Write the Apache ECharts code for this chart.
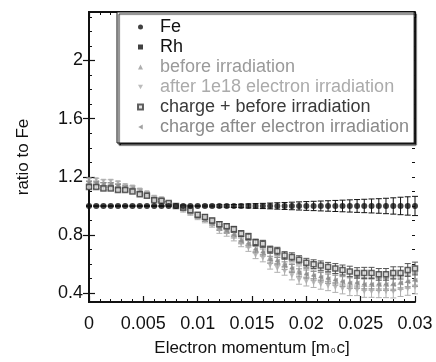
<!DOCTYPE html>
<html><head><meta charset="utf-8">
<script src="https://cdn.jsdelivr.net/npm/echarts@6/dist/echarts.min.js"></script>
<style>html,body{margin:0;padding:0;background:#fff}#c{width:436px;height:362px}</style>
</head><body><div id="c"></div>
<script>
const momentum = [0, 0.00067, 0.00133, 0.002, 0.00267, 0.00333, 0.004, 0.00467, 0.00533, 0.006,
  0.00667, 0.00733, 0.008, 0.00867, 0.00933, 0.01, 0.01067, 0.01133, 0.012, 0.01267,
  0.01333, 0.014, 0.01467, 0.01533, 0.016, 0.01667, 0.01733, 0.018, 0.01867, 0.01933,
  0.02, 0.02067, 0.02133, 0.022, 0.02267, 0.02333, 0.024, 0.02467, 0.02533, 0.026,
  0.02667, 0.02733, 0.028, 0.02867, 0.02933, 0.03];
const fe = [1,1,1,1,1,1,1,1,1,1, 1,1,1,1,1,1,1,1,1,1, 1,1,1,1,1,1,1,1,1,1, 1,1,1,1,1,1,1,1,1,1, 1,1,1,1,1,1];
const feErr = [0.004,0.004,0.004,0.004,0.004,0.004,0.004,0.004,0.004,0.004, 0.004,0.004,0.004,0.004,0.004,0.004,0.006,0.006,0.008,0.008,
  0.01,0.012,0.014,0.016,0.018,0.02,0.022,0.024,0.026,0.028, 0.03,0.032,0.034,0.036,0.038,0.04,0.042,0.044,0.046,0.048,
  0.05,0.053,0.056,0.06,0.063,0.066];
const rh = [];
const beforeIrr = [1.16,1.15,1.15,1.14,1.14,1.12,1.11,1.09,1.08,1.05, 1.04,1.02,1.00,0.98,0.96,0.93,0.91,0.89,0.855,0.835,
  0.81,0.77,0.75,0.71,0.69,0.65,0.63,0.61,0.58,0.56, 0.54,0.53,0.52,0.51,0.50,0.49,0.48,0.48,0.47,0.47,
  0.47,0.47,0.47,0.48,0.49,0.50];
const afterIrr = [1.18,1.18,1.17,1.17,1.16,1.14,1.13,1.11,1.09,1.06, 1.05,1.02,1.00,0.97,0.95,0.92,0.90,0.87,0.83,0.81,
  0.78,0.74,0.71,0.66,0.64,0.59,0.57,0.55,0.52,0.49, 0.48,0.47,0.46,0.45,0.44,0.43,0.42,0.42,0.41,0.41,
  0.41,0.41,0.41,0.42,0.43,0.44];
const chargeBefore = [1.13,1.13,1.12,1.12,1.11,1.11,1.10,1.08,1.07,1.04, 1.035,1.02,1.00,0.99,0.97,0.94,0.925,0.90,0.875,0.86,
  0.84,0.81,0.79,0.75,0.74,0.70,0.69,0.66,0.65,0.63, 0.61,0.60,0.59,0.58,0.57,0.56,0.55,0.54,0.54,0.54,
  0.53,0.53,0.54,0.54,0.56,0.57];
const chargeAfter = [1.16,1.16,1.15,1.15,1.14,1.13,1.12,1.10,1.08,1.05, 1.04,1.02,1.00,0.98,0.96,0.93,0.91,0.88,0.85,0.83,
  0.80,0.76,0.74,0.70,0.68,0.63,0.62,0.59,0.57,0.54, 0.53,0.52,0.51,0.50,0.49,0.48,0.47,0.47,0.46,0.46,
  0.46,0.46,0.46,0.47,0.48,0.49];
const dataErr = [0.01,0.01,0.01,0.01,0.01,0.01,0.01,0.01,0.01,0.01, 0.01,0.01,0.012,0.012,0.014,0.014,0.016,0.016,0.018,0.018,
  0.02,0.02,0.022,0.022,0.024,0.024,0.026,0.026,0.028,0.028, 0.03,0.03,0.032,0.032,0.034,0.034,0.036,0.036,0.038,0.038,
  0.04,0.04,0.042,0.042,0.044,0.044];
const xTicks = [0, 0.005, 0.01, 0.015, 0.02, 0.025, 0.03];
const yTicks = [0.4, 0.8, 1.2, 1.6, 2];
const yMinorTicks = [0.4,0.5,0.6,0.7,0.8,0.9,1.0,1.1,1.2,1.3,1.4,1.5,1.6,1.7,1.8,1.9,2.0,2.1,2.2,2.3];
const names = ['Fe', 'Rh', 'before irradiation', 'after 1e18 electron irradiation', 'charge + before irradiation', 'charge after electron irradiation'];

const FONT = "'Liberation Sans', Arial, sans-serif";
const Y_MIN = 0.34, Y_MAX = 2.333;
const TRI_DOWN = 'path://M0,0L10,0L5,9Z';
const TRI_LEFT = 'path://M9,0L9,10L0,5Z';
const pts = (vals) => momentum.map((x, i) => [x, vals[i]]);
const bars = (vals, err) => momentum.map((x, i) => [x, vals[i] - err[i], vals[i] + err[i]]);
function errSeries(vals, err, color, z) {
  return {
    type: 'custom', z: z, silent: true, xAxisIndex: 0, yAxisIndex: 0,
    data: bars(vals, err), encode: { x: 0, y: [1, 2] },
    renderItem: function (params, api) {
      const x = api.value(0);
      const a = api.coord([x, api.value(1)]);
      const b = api.coord([x, api.value(2)]);
      const w = 3;
      const st = { stroke: color, lineWidth: 1 };
      return { type: 'group', children: [
        { type: 'line', shape: { x1: a[0], y1: a[1], x2: b[0], y2: b[1] }, style: st },
        { type: 'line', shape: { x1: a[0] - w, y1: a[1], x2: a[0] + w, y2: a[1] }, style: st },
        { type: 'line', shape: { x1: b[0] - w, y1: b[1], x2: b[0] + w, y2: b[1] }, style: st }
      ]};
    }
  };
}
const axLine = { show: true, lineStyle: { color: '#111', width: 2 } };
const chart = echarts.init(document.getElementById('c'), null, { renderer: 'canvas' });
chart.setOption({
  animation: false,
  backgroundColor: '#fff',
  textStyle: { fontFamily: FONT },
  grid: { left: 89, right: 21, top: 12, bottom: 51, containLabel: false },
  xAxis: [
    { type: 'value', position: 'bottom', min: 0, max: 0.03, interval: 0.005,
      axisLine: axLine, splitLine: { show: false },
      axisTick: { show: true, inside: true, length: 6, lineStyle: { color: '#111', width: 1.2 } },
      minorTick: { show: true, splitNumber: 5, length: 3, lineStyle: { color: '#111', width: 1 } },
      axisLabel: { fontSize: 18, color: '#111', margin: 13, fontFamily: FONT,
        customValues: xTicks },
      name: 'Electron momentum [m{s|0}c]', nameLocation: 'middle', nameGap: 38,
      nameTextStyle: { fontSize: 17, color: '#111', fontFamily: FONT,
        rich: { s: { fontSize: 8, color: '#111', padding: [5, 1, 0, 1], fontFamily: FONT } } } },
    { type: 'value', position: 'top', min: 0, max: 0.03, interval: 0.005,
      axisLine: axLine, splitLine: { show: false }, axisLabel: { show: false },
      axisTick: { show: true, inside: true, length: 6, lineStyle: { color: '#111', width: 1.2 } },
      minorTick: { show: true, splitNumber: 5, length: 3, lineStyle: { color: '#111', width: 1 } } }
  ],
  yAxis: [
    { type: 'value', position: 'left', min: Y_MIN, max: Y_MAX,
      axisLine: axLine, splitLine: { show: false },
      axisTick: { show: true, inside: true, length: 6, customValues: yTicks, lineStyle: { color: '#111', width: 1.2 } },
      axisLabel: { fontSize: 18, color: '#111', margin: 6, fontFamily: FONT, customValues: yTicks },
      name: 'ratio to Fe', nameLocation: 'middle', nameGap: 57, nameRotate: 90,
      nameTextStyle: { fontSize: 17, color: '#111', fontFamily: FONT } },
    { type: 'value', position: 'right', min: Y_MIN, max: Y_MAX,
      axisLine: axLine, splitLine: { show: false }, axisLabel: { show: false },
      axisTick: { show: true, inside: true, length: 6, customValues: yTicks, lineStyle: { color: '#111', width: 1.2 } } },
    { type: 'value', position: 'left', offset: 0, min: Y_MIN, max: Y_MAX,
      axisLine: { show: false }, splitLine: { show: false }, axisLabel: { show: false },
      axisTick: { show: true, inside: true, length: 3, customValues: yMinorTicks, lineStyle: { color: '#111', width: 1 } } },
    { type: 'value', position: 'right', offset: 0, min: Y_MIN, max: Y_MAX,
      axisLine: { show: false }, splitLine: { show: false }, axisLabel: { show: false },
      axisTick: { show: true, inside: true, length: 3, customValues: yMinorTicks, lineStyle: { color: '#111', width: 1 } } }
  ],
  legend: {
    orient: 'vertical', left: 117, top: 12,
    padding: [6, 5, 7, 20], itemGap: 2, itemWidth: 5, itemHeight: 5,
    symbolKeepAspect: true,
    backgroundColor: '#fff', borderColor: '#111', borderWidth: 1,
    shadowColor: 'rgba(0,0,0,0.9)', shadowBlur: 1, shadowOffsetX: 2, shadowOffsetY: 2,
    textStyle: { fontSize: 18, fontFamily: FONT, color: '#111', padding: [0, 0, 0, 12] },
    data: [
      { name: names[0], textStyle: { color: '#111' } },
      { name: names[1], textStyle: { color: '#111' } },
      { name: names[2], textStyle: { color: '#9a9a9a' } },
      { name: names[3], icon: TRI_DOWN, textStyle: { color: '#ababab' } },
      { name: names[4], textStyle: { color: '#3a3a3a' } },
      { name: names[5], icon: TRI_LEFT, textStyle: { color: '#8a8a8a' } }
    ]
  },
  series: [
    errSeries(afterIrr, dataErr, '#b0b0b0', 1),
    errSeries(beforeIrr, dataErr, '#a0a0a0', 1),
    errSeries(chargeAfter, dataErr, '#909090', 1),
    errSeries(chargeBefore, dataErr, '#555', 1),
    errSeries(fe, feErr, '#111', 1),
    { name: names[3], type: 'scatter', z: 3, data: pts(afterIrr), symbol: TRI_DOWN, symbolSize: 5,
      itemStyle: { color: '#ababab' } },
    { name: names[2], type: 'scatter', z: 3, data: pts(beforeIrr), symbol: 'triangle', symbolSize: 5,
      itemStyle: { color: '#9a9a9a' } },
    { name: names[5], type: 'scatter', z: 3, data: pts(chargeAfter), symbol: TRI_LEFT, symbolSize: 5,
      itemStyle: { color: '#8a8a8a' } },
    { name: names[4], type: 'scatter', z: 4, data: pts(chargeBefore), symbol: 'rect', symbolSize: 5,
      itemStyle: { color: '#ddd', borderColor: '#3a3a3a', borderWidth: 1.5 } },
    { name: names[1], type: 'scatter', z: 4, data: rh, symbol: 'rect', symbolSize: 5,
      itemStyle: { color: '#111' } },
    { name: names[0], type: 'scatter', z: 5, data: pts(fe), symbol: 'circle', symbolSize: 6,
      itemStyle: { color: '#111' } }
  ]
});
</script>
</body></html>
